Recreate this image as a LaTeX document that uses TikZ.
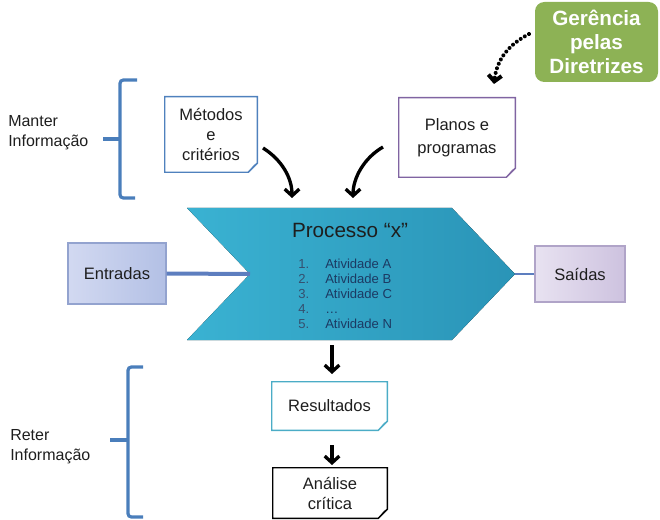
\documentclass[tikz,border=0pt]{standalone}
\usepackage{fontspec}
\setmainfont{Liberation Sans}
\usetikzlibrary{arrows.meta,calc}
\definecolor{bracecol}{HTML}{4A7EBB}
\definecolor{txtcol}{HTML}{1E1E1E}
\definecolor{chevL}{HTML}{3AB2D2}
\definecolor{chevR}{HTML}{2A94B7}
\definecolor{entL}{HTML}{D2D9F1}
\definecolor{entR}{HTML}{B3C0E5}
\definecolor{entB}{HTML}{93A3CF}
\definecolor{saiL}{HTML}{E8E2F1}
\definecolor{saiR}{HTML}{CDC2DF}
\definecolor{saiB}{HTML}{B0A4C8}
\definecolor{conncol}{HTML}{5D7EBF}
\definecolor{metB}{HTML}{4F81BD}
\definecolor{metF}{HTML}{A9C3E6}
\definecolor{plaB}{HTML}{8064A2}
\definecolor{plaF}{HTML}{C9BCDD}
\definecolor{resB}{HTML}{4BACC6}
\definecolor{resF}{HTML}{A6DCEA}
\definecolor{greenF}{HTML}{8DB255}
\definecolor{numcol}{HTML}{34506F}
\definecolor{listcol}{HTML}{1C3A63}
\newcommand\dogear[3]{%
  \draw[#2, line width=1.1pt] (#1.north west) -- (#1.north east) -- ($(#1.south east)+(0,-9)$) -- ($(#1.south east)+(-9,0)$) -- (#1.south west) -- cycle;
  \filldraw[draw=#2, fill=#3, line width=0.6pt] ($(#1.south east)+(0,-9)$) -- ($(#1.south east)+(-9,0)$) -- ($(#1.south east)+(-3,-7)$) -- cycle;
}
\begin{document}
\begin{tikzpicture}[x=0.75pt,y=-0.75pt,
  lbl/.style={align=center, inner sep=0pt, text=txtcol, font=\fontsize{12.4}{15}\selectfont},
  sidetxt/.style={align=left, inner sep=0pt, text=txtcol, anchor=west, font=\fontsize{12}{15}\selectfont},
  brace/.style={draw=bracecol, line width=2.4pt, rounded corners=2.5pt},
  conn/.style={draw=conncol},
  blk/.style={draw=black, line width=2.5pt, -{Straight Barb[length=5pt,width=11pt]}},
  listnum/.style={anchor=base west, inner sep=0pt, text=numcol, font=\fontsize{9.8}{11}\selectfont},
  listtxt/.style={anchor=base west, inner sep=0pt, text=listcol, font=\fontsize{9.8}{11}\selectfont}
]
\useasboundingbox (0,0) rectangle (660,520);

% braces
\node[sidetxt] (manter) at (8,133) {Manter\\Informação};
\draw[brace] (137,80) -- (120,80) -- (120,198) -- (135,198);
\draw[brace, rounded corners=0pt] (103,139) -- (120,139);
\node[sidetxt] (reter) at (10,447) {Reter\\Informação};
\draw[brace] (143,367) -- (128,367) -- (128,517) -- (143,517);
\draw[brace, rounded corners=0pt] (110,440) -- (128,440);

% chevron
\coordinate (notch) at (250,274);
\coordinate (tip) at (515,274);
\fill[left color=chevL, right color=chevR] (187,208) -- (452,208) -- (tip) -- (452,340) -- (187,340) -- (notch) -- cycle;
\node[inner sep=0pt, text=txtcol, font=\fontsize{15.5}{18}\selectfont] (title) at (350,230) {Processo “x”};
\foreach \i/\t [count=\k from 0] in {1/Atividade A,2/Atividade B,3/Atividade C,4/{…},5/Atividade N}{
  \node[listnum] (n\i) at (298,268+15.2*\k) {\i.};
  \node[listtxt] (t\i) at (325,268+15.2*\k) {\t};
}

% side boxes
\node[lbl, draw=entB, line width=0.8pt, left color=entL, right color=entR, minimum width=73.5pt, minimum height=45.75pt] (ent) at (117,273.5) {Entradas};
\node[lbl, draw=saiB, line width=0.8pt, left color=saiL, right color=saiR, minimum width=67.5pt, minimum height=42pt] (sai) at (580,274) {Saídas};
\draw[conn, line width=3pt] (ent.east) -- (notch);
\draw[conn, line width=2.2pt] (sai.west) -- (tip);

% note boxes
\node[lbl, minimum width=69pt, minimum height=56.25pt] (met) at (211,134.5) {Métodos\\e\\critérios};
\dogear{met}{metB}{metF}
\node[lbl, font=\fontsize{12.4}{17}\selectfont, minimum width=87pt, minimum height=59.25pt] (pla) at (457,137.5) {Planos e\\programas};
\dogear{pla}{plaB}{plaF}
\node[lbl, minimum width=86.25pt, minimum height=36pt] (res) at (329.5,406) {Resultados};
\dogear{res}{resB}{resF}
\node[lbl, minimum width=85.5pt, minimum height=37.5pt] (ana) at (330,493) {Análise\\crítica};
\dogear{ana}{black}{black!40}

% green box
\node[align=center, inner sep=0pt, fill=greenF, rounded corners=7pt, text=white, font=\fontsize{15.5}{18}\selectfont\bfseries, minimum width=92.25pt, minimum height=60pt] (ger) at (596.5,42) {Gerência\\pelas\\Diretrizes};

% arrows
\coordinate (a1s) at (263,148);
\coordinate (a1e) at (292,198);
\draw[blk] (a1s) .. controls (282,160) and (292,178) .. (a1e);
\coordinate (a2s) at (383,147);
\coordinate (a2e) at (353,198);
\draw[blk] (a2s) .. controls (364,158) and (353,178) .. (a2e);
\coordinate (v1s) at (332,345);
\coordinate (v1e) at (332,374);
\draw[blk] (v1s) -- (v1e);
\coordinate (v2s) at (332,445);
\coordinate (v2e) at (332,465);
\draw[blk] (v2s) -- (v2e);
\coordinate (d1s) at (529,34);
\coordinate (d1e) at (494,84);
\draw[black, line width=3pt, line cap=round, dash pattern=on 0.01pt off 3.6pt, -{Straight Barb[length=4.5pt,width=10pt]}] (d1s) .. controls (510,44) and (497,58) .. (d1e);
\end{tikzpicture}
\end{document}
